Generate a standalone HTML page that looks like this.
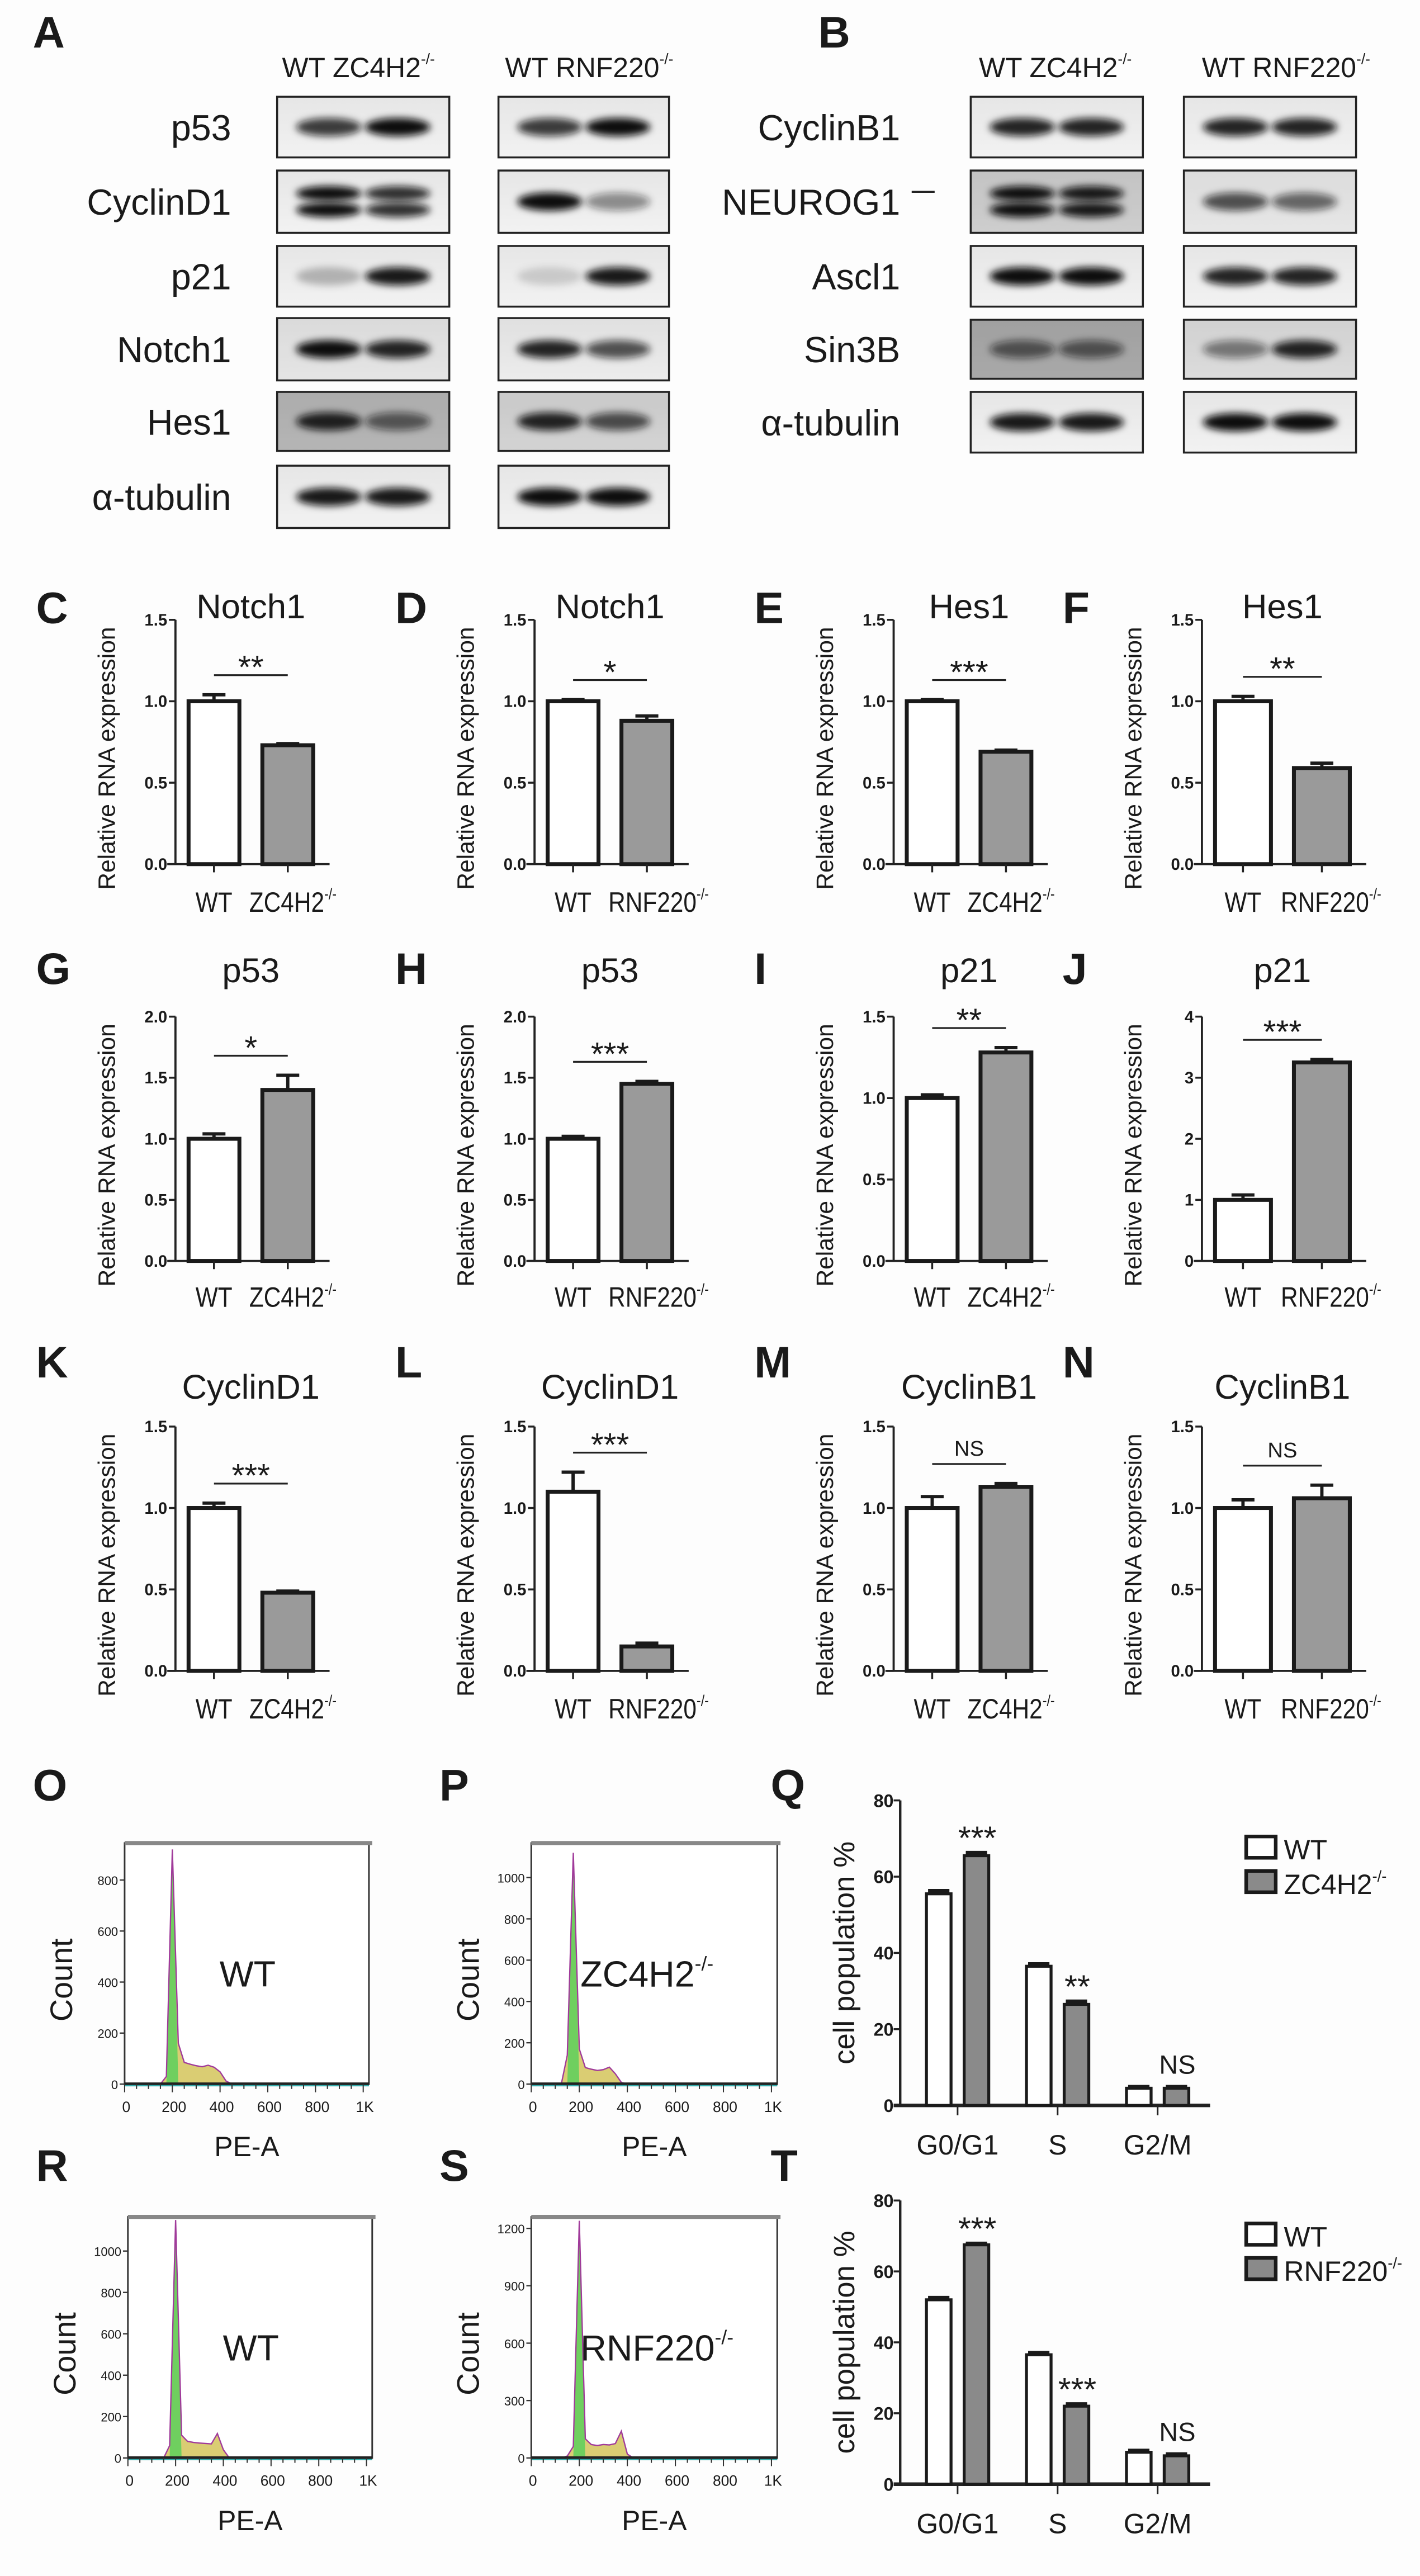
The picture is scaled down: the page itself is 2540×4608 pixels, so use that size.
<!DOCTYPE html>
<html><head><meta charset="utf-8">
<style>
html,body{margin:0;padding:0;background:#fff;}
svg{display:block;}
text{font-family:"Liberation Sans",Arial,sans-serif;fill:#1a1a1a;}
</style></head>
<body>
<svg id="fig" xmlns="http://www.w3.org/2000/svg" width="2540" height="4608" viewBox="0 0 866 1571" preserveAspectRatio="none">
<defs>
<filter id="blur" x="-50%" y="-100%" width="200%" height="300%"><feGaussianBlur stdDeviation="2.2"/></filter>
<linearGradient id="blotbg" x1="0" y1="0" x2="0" y2="1"><stop offset="0" stop-color="#e6e6e6"/><stop offset="1" stop-color="#f2f2f2"/></linearGradient>
</defs>
<rect x="0" y="0" width="866" height="1571" fill="#fdfdfd"/>
<g id="blots"></g>
<g id="bars"></g>
<g id="flow"></g>
</svg>
<script>
// ---------- Western blot data ----------
const blotLabelsA = ['p53','CyclinD1','p21','Notch1','Hes1','α-tubulin'];
const blotLabelsB = ['CyclinB1','NEUROG1','Ascl1','Sin3B','α-tubulin'];
const bandA_Z = [[0.8,1.0],[1.0,0.85],[0.25,0.95],[1.0,0.9],[0.9,0.6],[0.95,0.95]];
const bandA_R = [[0.8,1.0],[1.0,0.45],[0.15,0.95],[0.9,0.7],[0.9,0.7],[1.0,1.0]];
const bandB_Z = [[0.9,0.9],[1.0,0.95],[1.0,1.0],[0.6,0.6],[0.95,0.95]];
const bandB_R = [[0.9,0.9],[0.7,0.6],[0.9,0.9],[0.5,0.9],[1.0,1.0]];
const bgDarkA = [0,0,0,0.05,0.25,0];
const bgDarkB = [0,0.15,0,0.3,0];

// ---------- qPCR bar data ----------
const barLetters = ['C','D','E','F','G','H','I','J','K','L','M','N'];
const barTitles = ['Notch1','Notch1','Hes1','Hes1','p53','p53','p21','p21','CyclinD1','CyclinD1','CyclinB1','CyclinB1'];
const barKOLabels = ['ZC4H2','RNF220','ZC4H2','RNF220','ZC4H2','RNF220','ZC4H2','RNF220','ZC4H2','RNF220','ZC4H2','RNF220'];
const barWT = [1.0,1.0,1.0,1.0,1.0,1.0,1.0,1.0,1.0,1.1,1.0,1.0];
const barWTerr = [0.04,0.01,0.01,0.03,0.04,0.02,0.02,0.08,0.03,0.12,0.07,0.05];
const barKO = [0.73,0.88,0.69,0.59,1.40,1.45,1.28,3.25,0.48,0.15,1.13,1.06];
const barKOerr = [0.01,0.03,0.01,0.03,0.12,0.02,0.03,0.05,0.01,0.02,0.02,0.08];
const barMax = [1.5,1.5,1.5,1.5,2.0,2.0,1.5,4,1.5,1.5,1.5,1.5];
const barStep = [0.5,0.5,0.5,0.5,0.5,0.5,0.5,1,0.5,0.5,0.5,0.5];
const barSig = ['**','*','***','**','*','***','**','***','***','***','NS','NS'];

// ---------- Cell cycle data ----------
const ccCategories = ['G0/G1','S','G2/M'];
const ccWT_Q = [55.5,36.5,4.5];
const ccKO_Q = [65.5,26.5,4.5];
const ccWT_T = [52.0,36.5,9.0];
const ccKO_T = [67.5,22.0,8.0];
const ccErrWT_Q = [0.8,0.6,0.4];
const ccErrKO_Q = [0.8,0.8,0.4];
const ccErrWT_T = [0.6,0.6,0.5];
const ccErrKO_T = [0.4,0.6,0.5];
const ccSig_Q = ['***','**','NS'];
const ccSig_T = ['***','***','NS'];
const ccTicks = [0,20,40,60,80];

// ---------- Flow histograms (counts per 25-unit PE-A bin, 0..1000) ----------
const histO = [0,0,0,0,0,0,0,30,920,160,85,78,72,68,74,66,48,12,0,0,0,0,0,0,0,0,0,0,0,0,0,0,0,0,0,0,0,0,0,0,0];
const histP = [0,0,0,0,0,0,140,1120,170,80,72,66,70,82,50,8,0,0,0,0,0,0,0,0,0,0,0,0,0,0,0,0,0,0,0,0,0,0,0,0,0];
const histR = [0,0,0,0,0,0,0,60,1150,110,80,75,72,70,68,118,40,0,0,0,0,0,0,0,0,0,0,0,0,0,0,0,0,0,0,0,0,0,0,0,0];
const histS = [0,0,0,0,0,0,10,60,1240,100,70,65,70,68,75,140,20,0,0,0,0,0,0,0,0,0,0,0,0,0,0,0,0,0,0,0,0,0,0,0,0];
const histMax = [945,1167,1165,1260];
const histTicks = [[0,200,400,600,800],[0,200,400,600,800,1000],[0,200,400,600,800,1000],[0,300,600,900,1200]];
const histXTicks = ['0','200','400','600','800','1K'];

const NS='http://www.w3.org/2000/svg';
function mk(tag, attrs, parent){const e=document.createElementNS(NS,tag);for(const k in attrs)e.setAttribute(k,attrs[k]);parent.appendChild(e);return e;}
function txt(parent,x,y,str,size,opts){opts=opts||{};const t=mk('text',{x:x,y:y,'font-size':size,'text-anchor':opts.anchor||'start','font-weight':opts.bold?'bold':'normal'},parent);if(opts.rot)t.setAttribute('transform','rotate(-90 '+x+' '+y+')');t.textContent=str;return t;}
function sup(parent,x,y,base,size,anchor){const t=mk('text',{x:x,y:y,'font-size':size,'text-anchor':anchor||'start'},parent);t.appendChild(document.createTextNode(base));const s=mk('tspan',{'font-size':size*0.55,dy:-size*0.45},t);s.textContent='-/-';return t;}
function squeeze(el,x,y,f){el.setAttribute('transform','translate('+x+' '+y+') scale('+f+' 1) translate('+(-x)+' '+(-y)+')');}

// ================= BLOTS =================
const gb=document.getElementById('blots');
txt(gb,20,29,'A',27,{bold:true});
txt(gb,499,29,'B',27,{bold:true});
const rowsA=[[59,96],[104,142],[150,187],[194,232],[239,275],[284,322]];
const rowsB=[[59,96],[104,142],[150,187],[195,231],[239,276]];
function blot(x0,x1,y0,y1,bands,bg,name,twoBand){
  const g=mk('g',{},gb);
  
  
  mk('rect',{x:x0,y:y0,width:x1-x0,height:y1-y0,fill:'url(#blotbg)'},g);
  if(bg>0) mk('rect',{x:x0,y:y0,width:x1-x0,height:y1-y0,fill:'#000','fill-opacity':bg},g);
  const w=x1-x0, cy=(y0+y1)/2;
  bands.forEach((d,i)=>{
    const cx=x0+w*(i===0?0.3:0.7);
    if(twoBand){
      mk('ellipse',{cx:cx,cy:cy-5,rx:w*0.19,ry:4.5,fill:'#111','fill-opacity':d,filter:'url(#blur)'},g);
      mk('ellipse',{cx:cx,cy:cy+5,rx:w*0.19,ry:4.5,fill:'#111','fill-opacity':d,filter:'url(#blur)'},g);
    } else {
      mk('ellipse',{cx:cx,cy:cy,rx:w*0.19,ry:5.5,fill:'#111','fill-opacity':d,filter:'url(#blur)'},g);
    }
  });
  mk('rect',{x:x0,y:y0,width:x1-x0,height:y1-y0,fill:'none',stroke:'#222','stroke-width':1.2},g);
}
blotLabelsA.forEach((lab,i)=>{
  const [y0,y1]=rowsA[i];
  const t=txt(gb,141,(y0+y1)/2+8,lab,22,{anchor:'end'});
  
  
  blot(169,274,y0,y1,bandA_Z[i],bgDarkA[i],'blot-zc4h2-'+i,i===1);
  blot(304,408,y0,y1,bandA_R[i],bgDarkA[i]*0.5,'blot-rnf220-'+i,false);
});
blotLabelsB.forEach((lab,i)=>{
  const [y0,y1]=rowsB[i];
  const t=txt(gb,549,(y0+y1)/2+8,lab,22,{anchor:'end'});
  
  
  blot(592,697,y0,y1,bandB_Z[i],bgDarkB[i],'blot-b-zc4h2-'+i,i===1);
  blot(722,827,y0,y1,bandB_R[i],bgDarkB[i]*0.3,'blot-b-rnf220-'+i,false);
});
mk('line',{x1:556,y1:117,x2:570,y2:117,stroke:'#222','stroke-width':1.2},gb);
[[172,'ZC4H2'],[308,'RNF220'],[597,'ZC4H2'],[733,'RNF220']].forEach(([x,k])=>{
  const t=mk('text',{x:x,y:47,'font-size':17},gb);
  
  t.appendChild(document.createTextNode('WT  '+k));
  const s=mk('tspan',{'font-size':9,dy:-8},t);s.textContent='-/-';
});

// ================= BAR CHARTS =================
const gbar=document.getElementById('bars');
const colAx=[107,326,545,733];
const rowTop=[378,620,870], rowZero=[527,769,1019];
const rowTitle=[377,599,853], rowLetter=[380,600,840], rowXLab=[556,797,1048];
barLetters.forEach((L,i)=>{
  const r=Math.floor(i/4), c=i%4, ax=colAx[c];
  const g=mk('g',{},gbar);
  
  
  const yS=v=>rowZero[r]-(v/barMax[i])*(rowZero[r]-rowTop[r]);
  const wide=c===3?1.1:1;
  const bw=31*wide, xWT=ax+8, xKO=ax+8+bw+14;
  const xEnd=xKO+bw+10;
  const lt=txt(g,ax-85,rowLetter[r],L,27,{bold:true});
  
  const tt=txt(g,(xWT+xKO+bw)/2,rowTitle[r],barTitles[i],21,{anchor:'middle'});
  
  const yt=txt(g,ax-37,(rowTop[r]+rowZero[r])/2+10,'Relative RNA expression',14.5,{anchor:'middle',rot:true});
  
  mk('line',{x1:ax,y1:rowTop[r],x2:ax,y2:rowZero[r],stroke:'#222','stroke-width':1.3},g);
  mk('line',{x1:ax-5,y1:rowZero[r],x2:xEnd,y2:rowZero[r],stroke:'#222','stroke-width':1.3},g);
  for(let v=0;v<=barMax[i]+1e-9;v+=barStep[i]){
    const y=yS(v);
    mk('line',{x1:ax-4,y1:y,x2:ax,y2:y,stroke:'#222','stroke-width':1.2},g);
    const lab=barStep[i]>=1?String(Math.round(v)):v.toFixed(1);
    const tl=txt(g,ax-5,y+3.5,lab,10,{anchor:'end',bold:true});
    
  }
  [[xWT,barWT[i],barWTerr[i],'#fff','wt'],[xKO,barKO[i],barKOerr[i],'#9a9a9a','ko']].forEach(([x,v,e,f,n])=>{
    const b=mk('rect',{x:x,y:yS(v),width:bw,height:rowZero[r]-yS(v),fill:f,stroke:'#1a1a1a','stroke-width':2.4},g);
    
    
    const cx=x+bw/2;
    mk('line',{x1:cx,y1:yS(v),x2:cx,y2:yS(v+e),stroke:'#1a1a1a','stroke-width':2},g);
    mk('line',{x1:cx-7,y1:yS(v+e),x2:cx+7,y2:yS(v+e),stroke:'#1a1a1a','stroke-width':2},g);
    mk('line',{x1:cx,y1:rowZero[r],x2:cx,y2:rowZero[r]+5,stroke:'#222','stroke-width':1.2},g);
  });
  const top=Math.max(barWT[i]+barWTerr[i],barKO[i]+barKOerr[i]);
  const ly=yS(top)-0.08*(rowZero[r]-rowTop[r]);
  const sl=mk('line',{x1:xWT+bw/2,y1:ly,x2:xKO+bw/2,y2:ly,stroke:'#222','stroke-width':1.1},g);
  
  const st=txt(g,(xWT+xKO+bw)/2,barSig[i]==='NS'?ly-5:ly+2,barSig[i],barSig[i]==='NS'?13:20,{anchor:'middle'});
  
  const wx=xWT+bw/2;
  const xw=txt(g,wx,rowXLab[r],'WT',17,{anchor:'middle'});
  
  squeeze(xw,wx,rowXLab[r],0.85);
  const kx=xKO-8;
  const xk=sup(g,kx,rowXLab[r],barKOLabels[i],17,'start');
  
  squeeze(xk,kx,rowXLab[r],0.85);
});

// ================= FLOW HISTOGRAMS =================
const gf=document.getElementById('flow');
const hists=[histO,histP,histR,histS];
const histFrames=[[76,225,1124,1271],[324,474,1124,1271],[78,227,1352,1499],[324,474,1352,1499]];
const histLetters=['O','P','R','S'];
const histLetterY=[1098,1098,1330,1330];
const histNames=['WT','ZC4H2','WT','RNF220'];
hists.forEach((h,k)=>{
  const [x0,x1,yt,y0]=histFrames[k];
  const g=mk('g',{},gf);
  
  
  const xS=v=>x0+(v/1024)*(x1-x0);
  const yS=v=>y0-(v/histMax[k])*(y0-yt);
  txt(g,x0-56,histLetterY[k],histLetters[k],27,{bold:true});
  mk('rect',{x:x0,y:yt,width:x1-x0,height:y0-yt,fill:'#fff',stroke:'#333','stroke-width':1},g);
  mk('line',{x1:x0,y1:yt,x2:x1+2,y2:yt,stroke:'#888','stroke-width':2.5},g);
  let pts=[[xS(0),y0]];
  h.forEach((v,j)=>{pts.push([xS(j*25),yS(v)]);});
  pts.push([xS(1000),y0]);
  const area=mk('polygon',{points:pts.map(p=>p.join(',')).join(' '),fill:'#d4c45a','fill-opacity':0.85},g);
  
  const peakIdx=h.indexOf(Math.max(...h));
  let pk=[[xS((peakIdx-1)*25),y0],[xS(peakIdx*25),yS(h[peakIdx])],[xS((peakIdx+1)*25),y0]];
  const peak=mk('polygon',{points:pk.map(p=>p.join(',')).join(' '),fill:'#6fcf5f'},g);
  
  const line=mk('polyline',{points:pts.map(p=>p.join(',')).join(' '),fill:'none',stroke:'#a03a9a','stroke-width':0.8},g);
  
  mk('line',{x1:x0,y1:y0,x2:x1,y2:y0,stroke:'#222','stroke-width':2},g);
  mk('line',{x1:x0,y1:y0+1,x2:x1,y2:y0+1,stroke:'#3aa','stroke-width':0.8},g);
  histTicks[k].forEach(v=>{
    const y=yS(v);
    mk('line',{x1:x0-3,y1:y,x2:x0,y2:y,stroke:'#333','stroke-width':0.8},g);
    const tl=txt(g,x0-4,y+3,String(v),7.5,{anchor:'end'});
    
  });
  for(let v=0;v<=1024;v+=50){mk('line',{x1:xS(v),y1:y0,x2:xS(v),y2:y0+(v%200===0?5:3),stroke:'#333','stroke-width':0.7},g);}
  histXTicks.forEach((lab,j)=>{
    const tl=txt(g,xS(j*200)+1,y0+17,lab,9,{anchor:'middle'});
    
  });
  const xt=txt(g,(x0+x1)/2,y0+44,'PE-A',17,{anchor:'middle'});
  
  const yt2=txt(g,x0-32,(yt+y0)/2+10,'Count',19,{anchor:'middle',rot:true});
  
  const nm=histNames[k]==='WT'?txt(g,x0+75,(yt+y0)/2+14,'WT',22,{anchor:'middle'}):sup(g,x0+30,(yt+y0)/2+14,histNames[k],22);
  
});

// ================= CELL CYCLE BARS =================
function cellCycle(letter,wt,ko,ewt,eko,sig,top,zero,legendY,koName){
  const g=mk('g',{},gf);
  
  
  const ax=549;
  const yS=v=>zero-(v/80)*(zero-top);
  txt(g,470,letter==='Q'?1098:1330,letter,27,{bold:true});
  mk('line',{x1:ax,y1:top,x2:ax,y2:zero,stroke:'#222','stroke-width':1.5},g);
  mk('line',{x1:ax-4,y1:zero,x2:738,y2:zero,stroke:'#222','stroke-width':2.2},g);
  ccTicks.forEach(v=>{
    mk('line',{x1:ax-4,y1:yS(v),x2:ax,y2:yS(v),stroke:'#222','stroke-width':1.2},g);
    const tl=txt(g,ax-4,yS(v)+4,String(v),11,{anchor:'end',bold:true});
    
  });
  const yt=txt(g,ax-28,(top+zero)/2,'cell population %',18,{anchor:'middle',rot:true});
  
  ccCategories.forEach((cat,j)=>{
    const cx=584+j*61;
    const xw=cx-19, xk=cx+4;
    [[xw,wt[j],ewt[j],'#fff','wt'],[xk,ko[j],eko[j],'#8a8a8a','ko']].forEach(([x,v,e,f,n])=>{
      const b=mk('rect',{x:x,y:yS(v),width:15,height:zero-yS(v),fill:f,stroke:'#1a1a1a','stroke-width':1.8},g);
      
      
      mk('line',{x1:x+1,y1:yS(v+e),x2:x+14,y2:yS(v+e),stroke:'#1a1a1a','stroke-width':2.2},g);
    });
    mk('line',{x1:cx,y1:zero,x2:cx,y2:zero+6,stroke:'#222','stroke-width':1},g);
    const s=txt(g,xk+8,yS(ko[j]+eko[j])-(sig[j]==='NS'?8:2),sig[j],sig[j]==='NS'?16:20,{anchor:'middle'});
    
    const cl=txt(g,cx,zero+30,cat,17,{anchor:'middle'});
    
  });
  const lg=mk('g',{},g);
  
  
  mk('rect',{x:760,y:legendY-8,width:18,height:13,fill:'#fff',stroke:'#1a1a1a','stroke-width':2.2},lg);
  txt(lg,783,legendY+6,'WT',17);
  mk('rect',{x:760,y:legendY+13,width:18,height:13,fill:'#8a8a8a',stroke:'#1a1a1a','stroke-width':2.2},lg);
  sup(lg,783,legendY+27,koName,17);
}
cellCycle('Q',ccWT_Q,ccKO_Q,ccErrWT_Q,ccErrKO_Q,ccSig_Q,1098,1284,1128,'ZC4H2');
cellCycle('T',ccWT_T,ccKO_T,ccErrWT_T,ccErrKO_T,ccSig_T,1342,1515,1364,'RNF220');
</script>
</body></html>
